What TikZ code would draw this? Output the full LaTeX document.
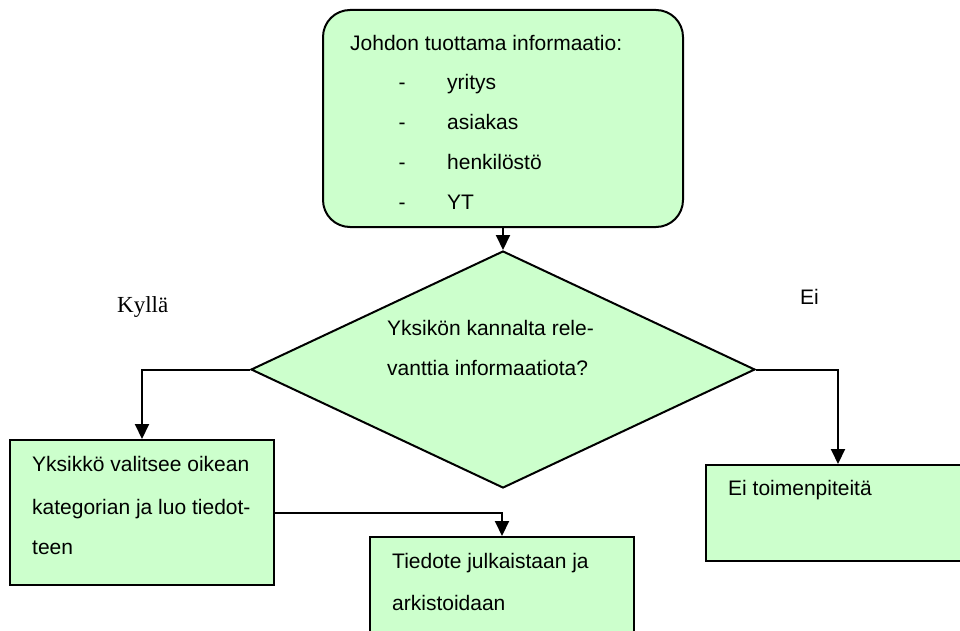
\documentclass[tikz,border=0pt]{standalone}
\usepackage{fontspec}
\setmainfont{Liberation Sans}
\newfontfamily\seriffam{Liberation Serif}
\usetikzlibrary{arrows.meta,shapes.geometric}
\definecolor{boxgreen}{HTML}{CCFFCC}
\begin{document}
\begin{tikzpicture}[x=1pt,y=-1pt,
  box/.style={draw=black, line width=2pt, fill=boxgreen, inner sep=0pt},
  txt/.style={inner sep=0pt, anchor=base west, font=\fontsize{21}{40}\selectfont},
  lbl/.style={inner sep=0pt, anchor=base west, font=\seriffam\fontsize{23}{28}\selectfont},
  conn/.style={draw=black, line width=2pt, -{Triangle[length=15pt,width=14pt]}}]
\useasboundingbox (0,0) rectangle (960,631);
\clip (0,0) rectangle (960,631);
% shapes
\node[box, rounded corners=27pt, minimum width=360pt, minimum height=217pt] (top) at (503,118.5) {};
\node[box, diamond, minimum width=504pt, minimum height=237pt] (dec) at (503,369.5) {};
\node[box, minimum width=264pt, minimum height=145pt] (left) at (142,512.5) {};
\node[box, minimum width=264pt, minimum height=163pt] (bot) at (502,618.5) {};
\node[box, minimum width=264pt, minimum height=96pt] (right) at (838,513) {};
% connectors
\draw[conn] (top.south) -- (dec.north);
\draw[conn] (dec.west) -| (left.north);
\draw[conn] (dec.east) -| (right.north);
\draw[conn] (left.east) -| (bot.north);
% texts
\node[txt] (t0) at (350,50.5) {Johdon tuottama informaatio:};
\node[txt] (t1) at (398.5,90) {\makebox[48.5pt][l]{-}yritys};
\node[txt] (t2) at (398.5,129.7) {\makebox[48.5pt][l]{-}asiakas};
\node[txt] (t3) at (398.5,169.4) {\makebox[48.5pt][l]{-}henkilöstö};
\node[txt] (t4) at (398.5,209.1) {\makebox[48.5pt][l]{-}YT};
\node[txt] (d1) at (387,335.5) {Yksikön kannalta rele-};
\node[txt] (d2) at (387,375.5) {vanttia informaatiota?};
\node[txt] (l1) at (32,471.5) {Yksikkö valitsee oikean};
\node[txt] (l2) at (32,514.5) {kategorian ja luo tiedot-};
\node[txt] (l3) at (32,554.5) {teen};
\node[txt] (b1) at (392,568.5) {Tiedote julkaistaan ja};
\node[txt] (b2) at (392,610.5) {arkistoidaan};
\node[txt] (r1) at (728,495.5) {Ei toimenpiteitä};
\node[lbl] (yes) at (117,312.5) {Kyllä};
\node[txt] (no) at (800,304.5) {Ei};
\end{tikzpicture}
\end{document}
